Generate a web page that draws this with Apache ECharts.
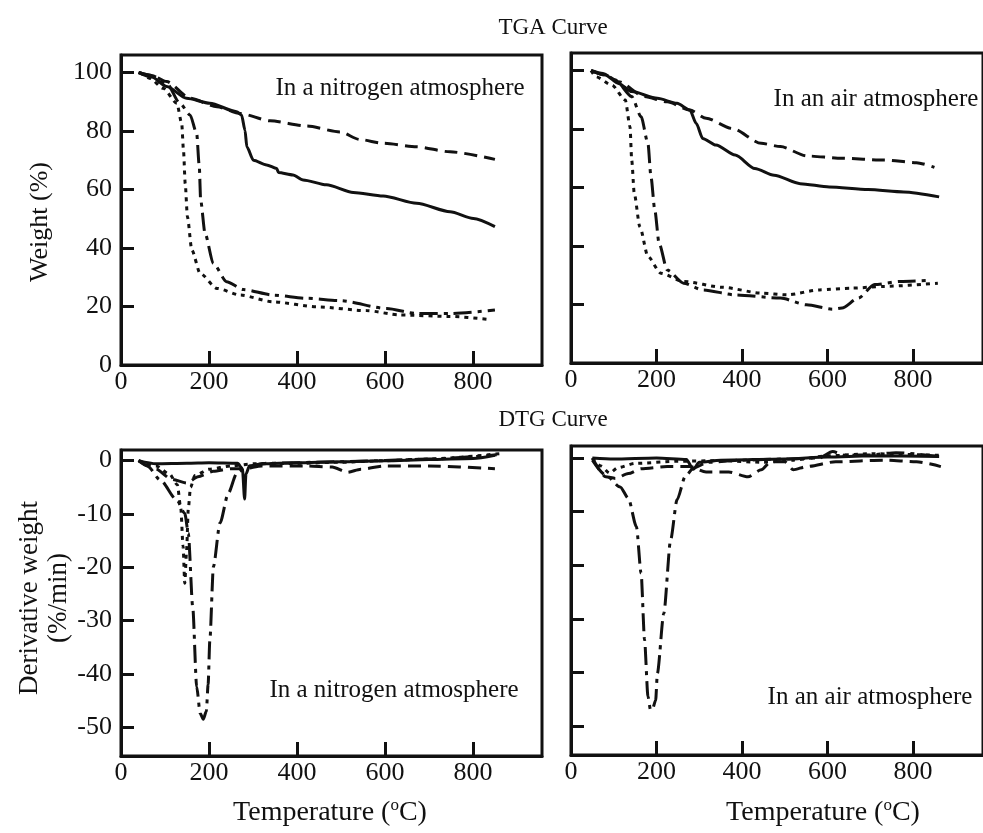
<!DOCTYPE html>
<html>
<head>
<meta charset="utf-8">
<script src="https://cdn.jsdelivr.net/npm/echarts@6/dist/echarts.min.js"></script>
<style>html,body{margin:0;padding:0;background:#fff;}#c{width:983px;height:833px;}</style>
</head>
<body>
<div id="c"></div>
<script>
// ---- tick labels ----
const xTicks = [200, 400, 600, 800];
const xLabels = [0, 200, 400, 600, 800];
const tgaYTicks = [20, 40, 60, 80, 100];
const tgaYLabels = [0, 20, 40, 60, 80, 100];
const dtgYTicks = [0, -10, -20, -30, -40, -50];
const dtgYLabels = [0, -10, -20, -30, -40, -50];

// ---- TGA, nitrogen ----
const tgaN2Solid = [[40,100],[70,98.5],[104,95.2],[149,91.2],[202,89.5],[263,86.6],[274,85.5],[282,80.2],[286,74.6],[301,70],[331,68.4],[354,67.2],[358,65.8],[391,65],[414,63.3],[467,61.6],[528,59],[596,57.8],[672,55.3],[748,52.4],[801,50.1],[850,47.3]];
const tgaN2Dashed = [[40,100],[70,99],[104,96.9],[157,91.2],[218,88.3],[271,86],[339,83.5],[422,81.7],[498,79.7],[543,77.1],[596,75.8],[672,74.6],[748,72.9],[850,70.3]];
const tgaN2Dotted = [[43,100],[66,98],[96,94.6],[127,89.5],[138,82.6],[142,73.5],[146,62],[151,50.6],[161,39.3],[180,31.3],[218,26.2],[271,23.9],[346,21.6],[445,19.9],[558,18.6],[634,17.1],[748,16.6],[835,15.6]];
const tgaN2DashDot = [[40,100],[70,99],[104,96.3],[134,89.5],[157,85.5],[172,79.2],[178,67.8],[181,56.4],[191,45],[210,34.7],[240,28.5],[278,25.8],[346,23.9],[422,22.8],[498,22],[604,19.3],[672,17.6],[748,17.6],[850,18.8]];

// ---- TGA, air ----
const tgaAirSolid = [[47,100],[80,98.5],[111,95.6],[142,92.8],[202,90.5],[248,88.8],[278,86.5],[293,81.9],[308,76.8],[339,74.5],[384,71.1],[430,66.5],[475,64.2],[536,61.3],[604,60.2],[695,59.3],[778,58.5],[861,56.8]];
const tgaAirDashed = [[47,100],[80,98.5],[111,96.2],[172,91.1],[225,89.3],[278,86.5],[316,83.7],[377,80.2],[445,75.1],[490,74],[551,70.8],[634,70],[733,69.4],[808,68.5],[850,66.9]];
const tgaAirDotted = [[47,100],[58,97.9],[96,95],[127,89.9],[138,80.8],[142,69.4],[148,57.9],[161,46.6],[180,36.4],[210,30.7],[263,27.9],[354,25.9],[445,23.9],[505,23.3],[581,25],[657,25.6],[733,26.2],[858,27.3]];
const tgaAirDashDot = [[47,100],[75,99],[104,96.8],[142,91.1],[164,84.2],[180,75.1],[187,63.7],[196,52.3],[206,40.9],[225,31.8],[263,27.3],[308,25],[384,23.3],[490,22.2],[551,19.9],[612,18.4],[634,18.8],[672,22.2],[710,26.8],[770,27.9],[839,28.3]];

// ---- DTG, nitrogen ----
const dtgN2Solid = [[40,0],[80,-0.6],[150,-0.5],[200,-0.4],[265,-0.5],[276,-1.5],[281,-7.2],[284,-2.5],[292,-1],[320,-0.6],[400,-0.4],[500,-0.2],[600,0],[700,0.2],[800,0.4],[850,1.0]];
const dtgN2Dashed = [[40,0],[80,-1.6],[115,-3.5],[150,-4.2],[175,-3],[210,-2],[250,-1.5],[280,-1.5],[320,-1],[420,-1],[480,-1.2],[515,-2.2],[545,-1.6],[600,-1],[700,-1],[850,-1.5]];
const dtgN2Dotted = [[40,0],[80,-1],[110,-2.5],[128,-4.5],[136,-9],[141,-16],[145,-23],[149,-17],[153,-9],[158,-5],[168,-2.8],[200,-1.6],[250,-1],[300,-0.6],[400,-0.5],[500,-0.3],[600,0],[700,0.3],[860,1.3]];
const dtgN2DashDot = [[40,0],[60,-1],[89,-3.6],[127,-7.4],[145,-9.9],[153,-13.6],[163,-27.4],[172,-42.4],[180,-47.4],[187,-48.5],[194,-47],[198,-42],[202,-33.6],[210,-19.9],[225,-11.7],[244,-6.1],[263,-2.4],[286,-1.1],[331,-0.5],[500,-0.2],[700,0.3],[854,1.1]];

// ---- DTG, air ----
const dtgAirSolid = [[50,0],[100,-0.2],[200,0],[270,-0.3],[286,-2.1],[300,-0.8],[350,-0.4],[500,-0.2],[600,0.2],[700,0.4],[861,0.3]];
const dtgAirDashed = [[50,0],[81,-3.5],[104,-3.8],[134,-2.9],[164,-2],[225,-1.6],[278,-1.6],[316,-2.6],[369,-2.6],[414,-3.5],[445,-2.2],[467,-0.7],[500,-0.7],[520,-2.2],[551,-1.6],[619,-0.7],[733,-0.4],[808,-0.7],[865,-1.6]];
const dtgAirDotted = [[50,0],[70,-1.5],[90,-2.8],[110,-1.8],[150,-1],[250,-0.6],[350,-0.5],[450,-0.8],[520,-0.4],[600,0.4],[700,0.8],[860,0.5]];
const dtgAirDashDot = [[50,-0.4],[81,-3.2],[115,-5.4],[134,-7.5],[153,-12.8],[164,-21.5],[172,-33.9],[180,-44.5],[186,-47],[191,-46.7],[198,-45.2],[202,-40.2],[217,-29],[233,-15.3],[248,-7.8],[267,-3.5],[286,-1.9],[320,-0.8],[400,-0.4],[500,-0.2],[580,0],[612,1.2],[640,0.5],[700,0.6],[760,1.0],[861,0.3]];

const INK = '#111';
const FONT = '"Liberation Serif", "DejaVu Serif", serif';
const TICK_FS = 26;

const grids = [
  {left: 121, top: 55, width: 421, height: 310},
  {left: 571, top: 53, width: 424, height: 310},
  {left: 121, top: 450, width: 421, height: 306},
  {left: 571, top: 446, width: 424, height: 309}
].map(g => Object.assign({show: true, borderColor: INK, borderWidth: 3, backgroundColor: 'transparent', containLabel: false}, g));

const xMax = [957, 963.6, 957, 963.6];
const yRange = [[0,106],[0,106],[-55.4,2.0],[-55.4,2.24]];

function xAxisFor(i) {
  return {
    type: 'value', gridIndex: i, min: 0, max: xMax[i],
    axisLine: {show: true, onZero: false, lineStyle: {color: INK, width: 3}},
    axisTick: {show: true, inside: true, length: 14, customValues: xTicks, lineStyle: {color: INK, width: 3}},
    axisLabel: {customValues: xLabels, fontFamily: FONT, fontSize: TICK_FS, color: INK, margin: 4},
    splitLine: {show: false}
  };
}
function yAxisFor(i) {
  const tga = i < 2;
  const showLabels = (i === 0 || i === 2);
  return {
    type: 'value', gridIndex: i, min: yRange[i][0], max: yRange[i][1],
    axisLine: {show: true, onZero: false, lineStyle: {color: INK, width: 3}},
    axisTick: {show: true, inside: true, length: 13, customValues: tga ? tgaYTicks : dtgYTicks, lineStyle: {color: INK, width: 3}},
    axisLabel: {show: showLabels, customValues: tga ? tgaYLabels : dtgYLabels, fontFamily: FONT, fontSize: TICK_FS, color: INK, margin: 9},
    splitLine: {show: false}
  };
}

const STYLES = {
  solid: 'solid',
  dashed: [13, 7],
  dotted: [4, 5],
  dashdot: [18, 6, 4, 6]
};
function mk(data, style, i) {
  return {
    type: 'line', xAxisIndex: i, yAxisIndex: i, data: data,
    showSymbol: false, symbol: 'none', smooth: 0.25, smoothMonotone: 'x',
    lineStyle: {color: INK, width: 3, type: STYLES[style], cap: 'butt'},
    silent: true, animation: false
  };
}

const series = [
  mk(tgaN2Solid,'solid',0), mk(tgaN2Dashed,'dashed',0), mk(tgaN2Dotted,'dotted',0), mk(tgaN2DashDot,'dashdot',0),
  mk(tgaAirSolid,'solid',1), mk(tgaAirDashed,'dashed',1), mk(tgaAirDotted,'dotted',1), mk(tgaAirDashDot,'dashdot',1),
  mk(dtgN2Solid,'solid',2), mk(dtgN2Dashed,'dashed',2), mk(dtgN2Dotted,'dotted',2), mk(dtgN2DashDot,'dashdot',2),
  mk(dtgAirSolid,'solid',3), mk(dtgAirDashed,'dashed',3), mk(dtgAirDotted,'dotted',3), mk(dtgAirDashDot,'dashdot',3)
];

function txt(text, x, y, fs, rot, rich) {
  const el = {
    type: 'text', x: x, y: y, rotation: rot || 0, silent: true, z: 100,
    style: {text: text, fill: INK, fontFamily: FONT, fontSize: fs, align: 'center', verticalAlign: 'middle'}
  };
  if (rich) el.style.rich = rich;
  return el;
}
const supRich = {
  n: {fontFamily: FONT, fontSize: 28, fill: INK, lineHeight: 30, verticalAlign: 'bottom'},
  s: {fontFamily: FONT, fontSize: 17, fill: INK, lineHeight: 30, verticalAlign: 'top'}
};

const graphics = [
  txt('TGA Curve', 553, 28, 23),
  txt('DTG Curve', 553, 420, 23),
  txt('Weight (%)', 40, 222, 26, Math.PI / 2),
  txt('Derivative weight', 30, 598, 27, Math.PI / 2),
  txt('(%/min)', 59, 598, 27, Math.PI / 2),
  txt('{n|Temperature (}{s|o}{n|C)}', 330, 812, 28, 0, supRich),
  txt('{n|Temperature (}{s|o}{n|C)}', 823, 812, 28, 0, supRich),
  txt('In a nitrogen atmosphere', 400, 88, 25),
  txt('In an air atmosphere', 876, 99, 25),
  txt('In a nitrogen atmosphere', 394, 690, 25),
  txt('In an air atmosphere', 870, 697, 25)
];

const chart = echarts.init(document.getElementById('c'), null, {renderer: 'canvas', width: 983, height: 833});
chart.setOption({
  backgroundColor: '#fff',
  animation: false,
  grid: grids,
  xAxis: [0,1,2,3].map(xAxisFor),
  yAxis: [0,1,2,3].map(yAxisFor),
  series: series,
  graphic: graphics
});
</script>
</body>
</html>
